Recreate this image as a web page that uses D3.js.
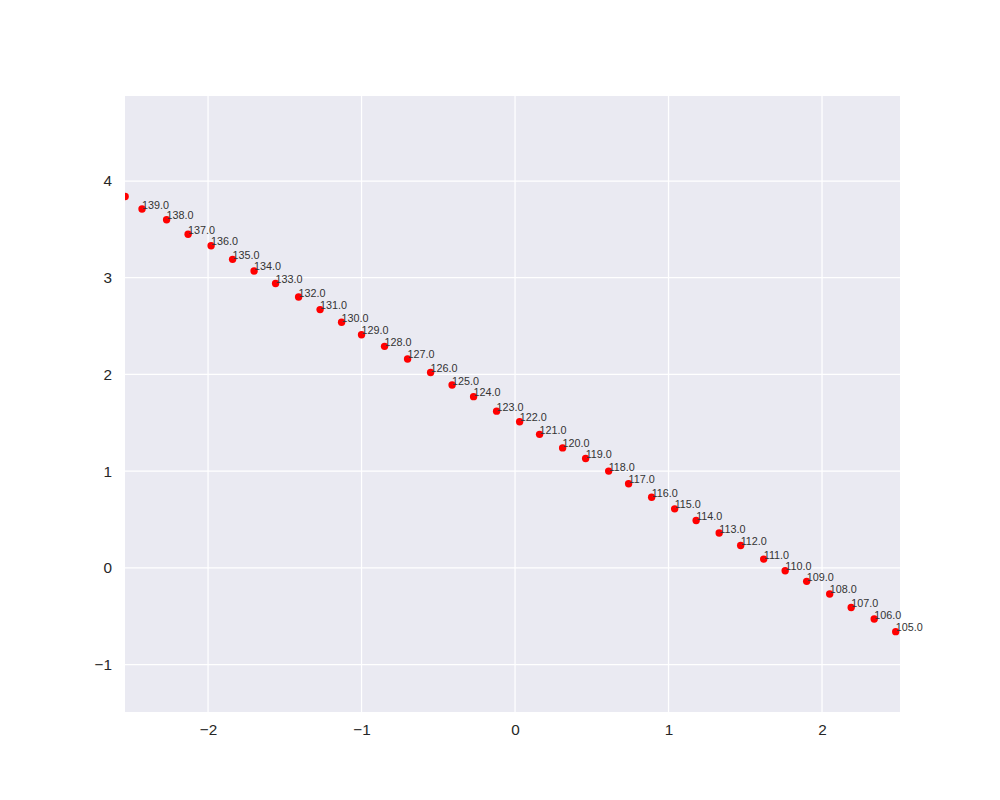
<!DOCTYPE html>
<html lang="en">
<head>
  <meta charset="UTF-8">
  <title>Scatter with labels</title>
  <script src="https://cdnjs.cloudflare.com/ajax/libs/d3/7.8.5/d3.min.js"></script>
  <style>
    body { margin: 0; background: #fff; }
    .tick text { font-family: "Liberation Sans", Arial, sans-serif; font-size: 15.3px; fill: #262626; }
    .pt-label { font-family: "Liberation Sans", Arial, sans-serif; font-size: 10.8px; fill: #333; }
  </style>
</head>
<body>
  <div id="graph"></div>
  <script>
    // data
    var xs = [-2.54, -2.43, -2.27, -2.13, -1.98, -1.84, -1.70, -1.56, -1.41, -1.27,
              -1.13, -1.00, -0.85, -0.70, -0.55, -0.41, -0.27, -0.12, 0.03, 0.16,
              0.31, 0.46, 0.61, 0.74, 0.89, 1.04, 1.18, 1.33, 1.47, 1.62,
              1.76, 1.90, 2.05, 2.19, 2.34, 2.48];
    var ys = [3.84, 3.71, 3.60, 3.45, 3.33, 3.19, 3.07, 2.94, 2.80, 2.67,
              2.54, 2.41, 2.29, 2.16, 2.02, 1.89, 1.77, 1.62, 1.51, 1.38,
              1.24, 1.13, 1.00, 0.87, 0.73, 0.61, 0.49, 0.36, 0.23, 0.09,
              -0.03, -0.14, -0.27, -0.41, -0.53, -0.66];
    // first point carries no label in the picture
    var labels = [null, 139, 138, 137, 136, 135, 134, 133, 132, 131,
                  130, 129, 128, 127, 126, 125, 124, 123, 122, 121,
                  120, 119, 118, 117, 116, 115, 114, 113, 112, 111,
                  110, 109, 108, 107, 106, 105];
    var xTicks = [-2, -1, 0, 1, 2];
    var yTicks = [-1, 0, 1, 2, 3, 4];

    var margin = {top: 96, right: 100, bottom: 88, left: 125},
        width = 1000 - margin.left - margin.right,
        height = 800 - margin.top - margin.bottom;

    var x = d3.scaleLinear().domain([-2.541, 2.508]).range([0, width]);
    var y = d3.scaleLinear().domain([-1.491, 4.879]).range([height, 0]);

    var svg = d3.select("#graph").append("svg")
        .attr("width", 1000)
        .attr("height", 800)
      .append("g")
        .attr("transform", "translate(" + margin.left + "," + margin.top + ")");

    svg.append("rect")
        .attr("width", width)
        .attr("height", height)
        .attr("fill", "#eaeaf2");

    svg.append("clipPath").attr("id", "clip")
      .append("rect").attr("width", width).attr("height", height);

    // grid
    svg.append("g").selectAll("line").data(xTicks).join("line")
        .attr("x1", d => x(d)).attr("x2", d => x(d))
        .attr("y1", 0).attr("y2", height)
        .attr("stroke", "#fff").attr("stroke-width", 1.25);
    svg.append("g").selectAll("line").data(yTicks).join("line")
        .attr("y1", d => y(d)).attr("y2", d => y(d))
        .attr("x1", 0).attr("x2", width)
        .attr("stroke", "#fff").attr("stroke-width", 1.25);

    // axes (no tick marks, no domain line)
    var fmt = d => d3.format("")(d).replace("-", "\u2212");
    var xa = svg.append("g")
        .attr("transform", "translate(0," + height + ")")
        .call(d3.axisBottom(x).tickValues(xTicks).tickSize(0).tickPadding(12).tickFormat(fmt));
    var ya = svg.append("g")
        .call(d3.axisLeft(y).tickValues(yTicks).tickSize(0).tickPadding(13).tickFormat(fmt));
    xa.select(".domain").remove();
    ya.select(".domain").remove();

    // points
    var idx = d3.range(xs.length);
    svg.append("g").attr("clip-path", "url(#clip)")
      .selectAll("circle").data(idx).join("circle")
        .attr("cx", i => x(xs[i]))
        .attr("cy", i => y(ys[i]))
        .attr("r", 3.7)
        .attr("fill", "red");

    // labels
    svg.append("g").selectAll("text").data(idx.filter(i => labels[i] != null)).join("text")
        .attr("class", "pt-label")
        .attr("x", i => x(xs[i]))
        .attr("y", i => y(ys[i]) - 0.5)
        .text(i => d3.format(".1f")(labels[i]));
  </script>
</body>
</html>
